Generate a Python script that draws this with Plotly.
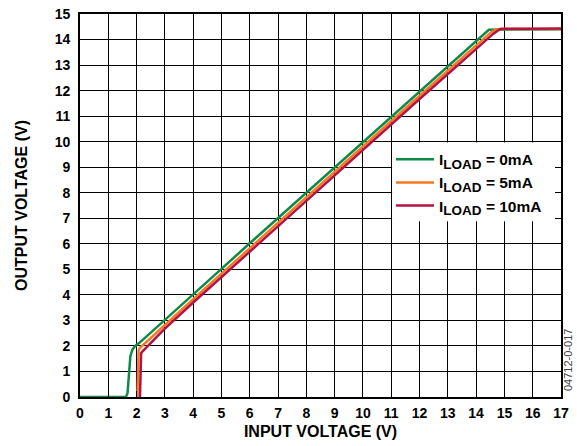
import plotly.graph_objects as go

# ---- data ----
green_x = [0, 1.62, 1.68, 1.71, 1.74, 1.78, 1.85, 1.95, 2.1, 3, 4, 5, 6, 7, 8, 9, 10, 11, 12, 13, 14, 14.3, 14.45, 15, 16, 17]
green_y = [0, 0, 0.15, 0.7, 1.25, 1.6, 1.85, 2.0, 2.12, 3.03, 4.03, 5.02, 6.02, 7.01, 8.01, 9.0, 9.98, 10.97, 11.96, 12.94, 13.93, 14.23, 14.38, 14.39, 14.39, 14.4]

orange_x = [2.03, 2.05, 2.07, 2.12, 3, 4, 5, 6, 7, 8, 9, 10, 11, 12, 13, 14, 14.5, 14.7, 15, 16, 17]
orange_y = [0, 1.0, 1.82, 1.93, 2.83, 3.83, 4.83, 5.83, 6.83, 7.84, 8.83, 9.82, 10.81, 11.8, 12.78, 13.77, 14.26, 14.4, 14.41, 14.41, 14.41]

red_x = [2.12, 2.14, 2.16, 2.22, 3, 4, 5, 6, 7, 8, 9, 10, 11, 12, 13, 14, 14.6, 14.85, 15, 16, 17]
red_y = [0, 1.0, 1.72, 1.8, 2.68, 3.7, 4.7, 5.7, 6.7, 7.7, 8.7, 9.69, 10.68, 11.67, 12.65, 13.64, 14.22, 14.41, 14.42, 14.42, 14.43]

series_names = [
    "I<sub><span style='font-size:13.5px'>LOAD</span></sub> = 0mA",
    "I<sub><span style='font-size:13.5px'>LOAD</span></sub> = 5mA",
    "I<sub><span style='font-size:13.5px'>LOAD</span></sub> = 10mA",
]
series_colors = ["#0E8A4A", "#F7791F", "#B31445"]

x_ticks = list(range(0, 18))
y_ticks = list(range(0, 16))

FONT = "Liberation Sans, Arial, Helvetica, sans-serif"

fig = go.Figure()
for i, (xs, ys, name, col) in enumerate(zip([green_x, orange_x, red_x], [green_y, orange_y, red_y],
                                            series_names, series_colors)):
    fig.add_trace(go.Scatter(x=xs, y=ys, mode="lines", name=name,
                             line=dict(color=col, width=2.5)))

# white box behind legend, hiding grid lines
fig.add_shape(type="rect", xref="x", yref="y", x0=11.03, x1=17, y0=6.88, y1=9.97,
              fillcolor="white", line=dict(width=0), layer="between")

axis_common = dict(
    showgrid=True, gridcolor="black", gridwidth=1.2,
    showline=True, linecolor="black", linewidth=1.6, mirror="ticks",
    ticks="inside", ticklen=6, tickcolor="black", tickwidth=1.2,
    zeroline=False, automargin=False,
    tickfont=dict(family=FONT, size=14, color="black", weight="bold"),
)

fig.update_xaxes(range=[0, 17], tickvals=x_ticks, ticktext=[str(v) for v in x_ticks],
                 ticklabelstandoff=2,
                 title=dict(text="INPUT VOLTAGE (V)", standoff=6,
                            font=dict(family=FONT, size=16, color="black", weight="bold")),
                 **axis_common)
fig.update_yaxes(range=[0, 15], tickvals=y_ticks, ticktext=[str(v) for v in y_ticks],
                 ticklabelstandoff=5,
                 title=dict(text="OUTPUT VOLTAGE (V)", standoff=23,
                            font=dict(family=FONT, size=16, color="black", weight="bold")),
                 **axis_common)

fig.update_layout(
    width=577, height=446,
    margin=dict(l=80, r=16, t=14, b=49, autoexpand=False),
    plot_bgcolor="white", paper_bgcolor="white",
    showlegend=True,
    legend=dict(x=0.6466, y=0.664, xanchor="left", yanchor="top",
                bgcolor="rgba(0,0,0,0)", borderwidth=0, itemwidth=38,
                font=dict(family=FONT, size=15.5, color="black", weight="bold")),
    annotations=[dict(text="04712-0-017", xref="paper", yref="paper", x=1.0146, y=0.0966,
                      xanchor="center", yanchor="middle",
                      showarrow=False, textangle=-90,
                      font=dict(family=FONT, size=11, color="#444444"))],
)

fig.write_html("out.html", config={"displayModeBar": False},
               post_script="document.body.style.margin='0';document.body.style.overflow='hidden';")
